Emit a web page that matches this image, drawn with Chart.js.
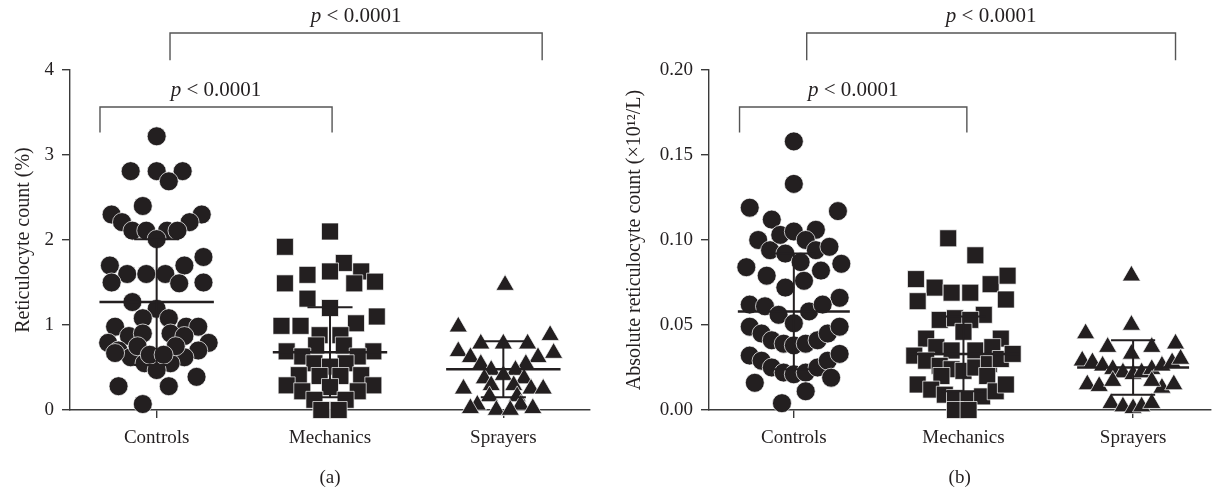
<!DOCTYPE html>
<html>
<head>
<meta charset="utf-8">
<script src="https://cdn.jsdelivr.net/npm/chart.js@4.4.1/dist/chart.umd.min.js"></script>
<style>
  html, body { margin: 0; padding: 0; background: #fff; }
  #wrap { position: relative; width: 1223px; height: 492px; overflow: hidden; }
  .panel { position: absolute; top: 0; height: 492px; }
  #panelA { left: 0; width: 611px; }
  #panelB { left: 611px; width: 612px; }
</style>
</head>
<body>
<div id="wrap">
  <div class="panel" id="panelA"><canvas id="chartA"></canvas></div>
  <div class="panel" id="panelB"><canvas id="chartB"></canvas></div>
</div>
<script>
const groups = ["Controls", "Mechanics", "Sprayers"];

// (a) reticulocyte count (%) - values and swarm offsets (category units)
const pctControlsY = [3.22, 2.81, 2.81, 2.81, 2.69, 2.40, 2.30, 2.30, 2.21, 2.21, 2.11, 2.11, 2.11, 2.11, 2.01, 1.80, 1.70, 1.70, 1.60, 1.60, 1.60, 1.50, 1.49, 1.50, 1.27, 1.19, 1.08, 1.08, 0.98, 0.98, 0.98, 0.87, 0.90, 0.90, 0.87, 0.79, 0.79, 0.70, 0.70, 0.62, 0.62, 0.55, 0.55, 0.47, 0.75, 0.75, 0.67, 0.65, 0.65, 0.28, 0.28, 0.39, 0.07];
const pctControlsX = [0, -0.15, 0, 0.15, 0.07, -0.08, -0.26, 0.26, -0.20, 0.19, -0.14, -0.06, 0.06, 0.12, 0, 0.27, -0.27, 0.16, -0.17, -0.06, 0.05, -0.26, 0.13, 0.27, -0.14, 0, -0.08, 0.07, -0.24, 0.17, 0.24, -0.16, -0.08, 0.08, 0.16, -0.28, 0.30, -0.22, 0.24, -0.15, 0.16, -0.07, 0.08, 0, -0.11, 0.11, -0.24, -0.04, 0.04, -0.22, 0.07, 0.23, -0.08];
const pctMechanicsY = [2.10, 1.92, 1.73, 1.63, 1.63, 1.59, 1.51, 1.49, 1.49, 1.31, 1.20, 1.10, 1.02, 0.99, 0.99, 0.88, 0.88, 0.76, 0.76, 0.69, 0.69, 0.63, 0.63, 0.55, 0.55, 0.51, 0.41, 0.41, 0.40, 0.40, 0.29, 0.29, 0.27, 0.22, 0.22, 0.12, 0.12, 0.0, 0.0];
const pctMechanicsX = [0, -0.26, 0.08, 0, 0.18, -0.13, 0.26, -0.26, 0.14, -0.13, 0, 0.27, 0.15, -0.28, -0.17, -0.06, 0.06, -0.08, 0.08, -0.25, 0.25, -0.16, 0.16, -0.09, 0.09, 0, -0.18, 0.18, -0.06, 0.06, -0.25, 0.25, 0, -0.16, 0.16, -0.09, 0.09, -0.05, 0.05];
const pctSprayersY = [1.47, 0.98, 0.88, 0.78, 0.78, 0.78, 0.69, 0.67, 0.62, 0.62, 0.54, 0.54, 0.47, 0.47, 0.41, 0.37, 0.37, 0.29, 0.29, 0.25, 0.25, 0.25, 0.16, 0.16, 0.06, 0.06, 0.02, 0.02, 0.0, 0.0];
const pctSprayersX = [0.01, -0.26, 0.27, -0.13, 0, 0.14, -0.26, 0.29, -0.19, 0.20, -0.13, 0.13, -0.07, 0.07, 0, -0.11, 0.12, -0.07, 0.06, -0.23, 0.16, 0.23, -0.08, 0.08, -0.15, 0.10, -0.19, 0.17, -0.04, 0.04];
const pctMean = [1.27, 0.68, 0.48];
const pctSD = [0.74, 0.53, 0.33];

// (b) absolute reticulocyte count (x10^12/L)
const absControlsY = [0.158, 0.133, 0.119, 0.117, 0.112, 0.100, 0.094, 0.103, 0.105, 0.106, 0.100, 0.092, 0.094, 0.096, 0.087, 0.084, 0.086, 0.079, 0.082, 0.076, 0.072, 0.066, 0.062, 0.061, 0.056, 0.051, 0.058, 0.062, 0.049, 0.045, 0.041, 0.039, 0.038, 0.039, 0.041, 0.045, 0.049, 0.032, 0.029, 0.025, 0.022, 0.021, 0.022, 0.025, 0.029, 0.033, 0.016, 0.019, 0.011, 0.004];
const absControlsX = [0, 0, -0.26, 0.26, -0.13, -0.21, -0.14, -0.08, 0, 0.13, 0.07, -0.05, 0.13, 0.21, 0.04, -0.28, 0.28, -0.16, 0.16, 0.06, -0.05, 0.27, -0.26, -0.17, -0.09, 0, 0.09, 0.17, -0.26, -0.19, -0.13, -0.06, 0, 0.07, 0.14, 0.20, 0.27, -0.26, -0.19, -0.13, -0.06, 0, 0.07, 0.14, 0.20, 0.27, -0.23, 0.22, 0.07, -0.07];
const absMechanicsY = [0.101, 0.091, 0.077, 0.072, 0.069, 0.069, 0.074, 0.079, 0.064, 0.065, 0.056, 0.053, 0.054, 0.053, 0.042, 0.042, 0.046, 0.037, 0.035, 0.035, 0.037, 0.032, 0.029, 0.026, 0.024, 0.023, 0.025, 0.027, 0.030, 0.033, 0.020, 0.020, 0.015, 0.012, 0.009, 0.007, 0.006, 0.008, 0.011, 0.015, 0.0, 0.0];
const absMechanicsX = [-0.09, 0.07, -0.28, -0.17, -0.07, 0.04, 0.16, 0.26, -0.27, 0.25, 0.12, -0.14, -0.05, 0.04, -0.22, 0.22, 0, -0.16, -0.07, 0.07, 0.17, -0.29, -0.22, -0.14, -0.07, 0, 0.07, 0.15, 0.22, 0.29, -0.13, 0.14, -0.27, -0.19, -0.11, -0.05, 0.03, 0.11, 0.19, 0.25, -0.05, 0.03];
const absSprayersY = [0.079, 0.050, 0.045, 0.039, 0.037, 0.037, 0.033, 0.029, 0.028, 0.026, 0.024, 0.022, 0.021, 0.022, 0.024, 0.026, 0.028, 0.030, 0.015, 0.014, 0.013, 0.015, 0.017, 0.017, 0.004, 0.002, 0.001, 0.002, 0.004];
const absSprayersX = [-0.01, -0.01, -0.28, 0.25, -0.15, 0.11, -0.01, -0.30, -0.24, -0.18, -0.12, -0.06, 0, 0.05, 0.11, 0.17, 0.23, 0.28, -0.27, -0.20, 0.17, 0.24, -0.12, 0.11, -0.13, -0.06, 0, 0.05, 0.11];
const absMean = [0.058, 0.033, 0.025];
const absSD = [0.034, 0.022, 0.016];

const pLabel = "< 0.0001";
const markColor = "#231f20";
const axisColor = "#3a3a3a";
const serif = '"Liberation Serif", "DejaVu Serif", serif';
const pointStyles = ["circle", "rect", "triangle"];
const pointSizes = [9.5, 12, 10.5];

function makeSets(ys, xs) {
    return ys.map((list, i) => ({
        data: list.map((v, k) => ({ x: i + xs[i][k], y: v })),
        pointStyle: pointStyles[i],
        pointRadius: pointSizes[i],
        backgroundColor: markColor,
        borderColor: "#ffffff",
        borderWidth: 0.7,
        clip: false
    }));
}

// mean +/- SD bars and the significance brackets
const statsPlugin = {
    id: "stats",
    afterDatasetsDraw(chart, args, opts) {
        const ctx = chart.ctx;
        const xs = chart.scales.x, ys = chart.scales.y;
        ctx.save();
        ctx.strokeStyle = markColor;
        ctx.lineCap = "butt";
        opts.means.forEach((m, i) => {
            const sd = opts.sds[i];
            ctx.lineWidth = 2.5;
            ctx.beginPath();
            ctx.moveTo(xs.getPixelForValue(i - 0.33), ys.getPixelForValue(m));
            ctx.lineTo(xs.getPixelForValue(i + 0.33), ys.getPixelForValue(m));
            ctx.stroke();
            ctx.lineWidth = 2;
            ctx.beginPath();
            ctx.moveTo(xs.getPixelForValue(i), ys.getPixelForValue(m - sd));
            ctx.lineTo(xs.getPixelForValue(i), ys.getPixelForValue(m + sd));
            [m - sd, m + sd].forEach(v => {
                ctx.moveTo(xs.getPixelForValue(i - 0.13), ys.getPixelForValue(v));
                ctx.lineTo(xs.getPixelForValue(i + 0.13), ys.getPixelForValue(v));
            });
            ctx.stroke();
        });

        ctx.strokeStyle = "#555";
        ctx.lineWidth = 1.4;
        ctx.fillStyle = markColor;
        ctx.textBaseline = "alphabetic";
        const size = 21;
        opts.brackets.forEach(b => {
            const x1 = xs.getPixelForValue(b.from), x2 = xs.getPixelForValue(b.to);
            const yTop = ys.getPixelForValue(b.y), yLeg = ys.getPixelForValue(b.y - b.leg);
            ctx.beginPath();
            ctx.moveTo(x1, yLeg);
            ctx.lineTo(x1, yTop);
            ctx.lineTo(x2, yTop);
            ctx.lineTo(x2, yLeg);
            ctx.stroke();

            ctx.font = "italic " + size + "px " + serif;
            const wp = ctx.measureText("p ").width;
            ctx.font = size + "px " + serif;
            const wr = ctx.measureText(pLabel).width;
            const start = (x1 + x2) / 2 - (wp + wr) / 2;
            ctx.font = "italic " + size + "px " + serif;
            ctx.fillText("p", start, yTop - 11);
            ctx.font = size + "px " + serif;
            ctx.fillText(pLabel, start + wp, yTop - 11);
        });
        ctx.restore();
    }
};

function makeChart(id, cfg) {
    return new Chart(document.getElementById(id), {
        type: "scatter",
        data: { datasets: makeSets(cfg.ys, cfg.xs) },
        options: {
            responsive: true,
            maintainAspectRatio: false,
            animation: false,
            layout: { padding: { top: 70, right: cfg.padRight, left: 0, bottom: 0 } },
            plugins: {
                legend: { display: false },
                tooltip: { enabled: false },
                stats: { means: cfg.means, sds: cfg.sds, brackets: cfg.brackets }
            },
            scales: {
                x: {
                    type: "linear",
                    min: -0.5,
                    max: cfg.xMax,
                    afterBuildTicks: s => { s.ticks = groups.map((g, i) => ({ value: i })); },
                    afterFit: s => { s.height = 82; },
                    ticks: {
                        autoSkip: false,
                        maxRotation: 0,
                        padding: 9,
                        color: markColor,
                        font: { family: serif, size: 19 },
                        callback: v => groups[v]
                    },
                    grid: { drawOnChartArea: false, drawTicks: true, tickLength: 8, color: axisColor, lineWidth: 1.4 },
                    border: { display: true, color: axisColor, width: 1.4 },
                    title: {
                        display: true,
                        text: cfg.caption,
                        color: markColor,
                        font: { family: serif, size: 19 },
                        padding: { top: 0, bottom: 3 }
                    }
                },
                y: {
                    min: 0,
                    max: cfg.yMax,
                    afterFit: s => { s.width = cfg.yWidth; },
                    ticks: {
                        stepSize: cfg.step,
                        padding: 8,
                        color: markColor,
                        font: { family: serif, size: 19 },
                        callback: v => v.toFixed(cfg.decimals)
                    },
                    grid: { drawOnChartArea: false, drawTicks: true, tickLength: 8, color: axisColor, lineWidth: 1.4 },
                    border: { display: true, color: axisColor, width: 1.4 },
                    title: {
                        display: true,
                        text: cfg.yTitle,
                        color: markColor,
                        font: { family: serif, size: 20 },
                        padding: { top: 12, bottom: 0 }
                    }
                }
            }
        },
        plugins: [statsPlugin]
    });
}

makeChart("chartA", {
    ys: [pctControlsY, pctMechanicsY, pctSprayersY],
    xs: [pctControlsX, pctMechanicsX, pctSprayersX],
    means: pctMean, sds: pctSD,
    brackets: [
        { from: 0.077, to: 2.224, y: 4.435, leg: 0.32 },
        { from: -0.327, to: 1.012, y: 3.565, leg: 0.30 }
    ],
    yMax: 4, step: 1, decimals: 0,
    xMax: 2.5, padRight: 21, yWidth: 70,
    yTitle: "Reticulocyte count (%)",
    caption: "(a)"
});

makeChart("chartB", {
    ys: [absControlsY, absMechanicsY, absSprayersY],
    xs: [absControlsX, absMechanicsX, absSprayersX],
    means: absMean, sds: absSD,
    brackets: [
        { from: 0.076, to: 2.25, y: 0.2218, leg: 0.016 },
        { from: -0.32, to: 1.02, y: 0.1782, leg: 0.015 }
    ],
    yMax: 0.2, step: 0.05, decimals: 2,
    xMax: 2.455, padRight: 2, yWidth: 98,
    yTitle: "Absolute reticulocyte count (×10¹²/L)",
    caption: "(b)"
});
</script>
</body>
</html>
